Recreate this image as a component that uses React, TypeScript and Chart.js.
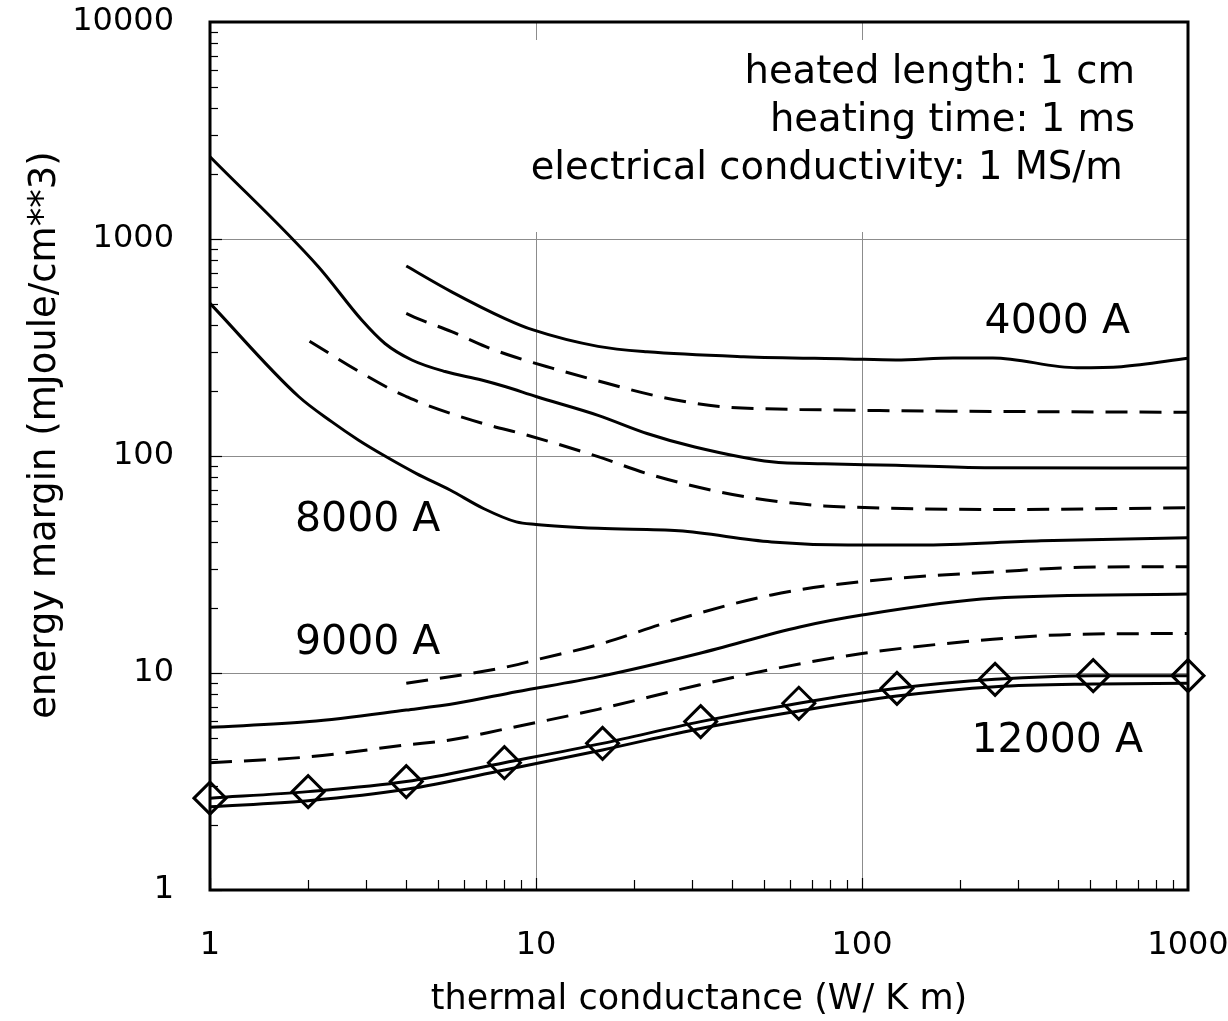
import React, { useEffect, useRef } from "react";
import { Chart, registerables } from "chart.js";

Chart.register(...registerables);

const FONT = "'DejaVu Sans', Verdana, sans-serif";

const X_TICKS = [1, 10, 100, 1000];
const Y_TICKS = [1, 10, 100, 1000, 10000];

// 4000 A upper solid
const sBx = [4, 5.51, 8.03, 9.8, 15.5, 21.9, 43.3, 90.6, 127, 190, 252, 457, 625, 1000];
const sBy = [751, 571, 430, 381, 320, 302, 287, 280, 277, 283, 283, 255, 258, 282];
// dashed below it
const d1x = [4, 4.32, 5.51, 7.01, 8.66, 11.2, 14.5, 23.8, 36.5, 64.4, 113, 354, 1000];
const d1y = [454, 431, 374, 319, 285, 254, 228, 188, 169, 164, 162, 160, 159];
// solid from top-left
const sAx = [1, 2.15, 2.92, 3.44, 4.16, 5.26, 6.81, 8.03, 10, 15.5, 21.9, 30.7, 52.8, 76.4, 127, 238, 1000];
const sAy = [2394, 745, 423, 330, 277, 245, 224, 209, 188, 154, 127, 110, 94, 92, 90.6, 88.3, 88];
// dashed from x=2
const d2x = [2.02, 2.88, 3.61, 4.0, 4.6, 6.9, 9.35, 15.5, 21.9, 34.4, 50.8, 76.4, 96.6, 265, 1000];
const d2y = [338, 244, 202, 188, 172, 141, 125, 99.3, 83, 69.7, 62.7, 58.9, 58, 56.7, 57.7];
// 8000 A solid
const sCx = [1, 1.87, 2.36, 2.85, 3.44, 4.3, 5.45, 6.9, 8.7, 10, 15.5, 27.4, 52.8, 90.6, 150, 354, 1000];
const sCy = [505, 188, 144, 118.6, 100, 83, 69.7, 57.3, 49.7, 48.4, 46.4, 45.2, 40.2, 38.9, 38.9, 40.7, 42];
// 9000 A dashed
const d3x = [4, 6.7, 8.7, 10, 15.5, 25.9, 52.8, 100, 265, 471, 1000];
const d3y = [8.96, 10.1, 10.9, 11.5, 13.5, 17.3, 22.9, 26.4, 29.3, 30.7, 30.9];
// solid
const sDx = [1, 2.02, 4, 5.7, 8.7, 15.5, 31.6, 64.4, 100, 252, 1000];
const sDy = [5.62, 5.97, 6.75, 7.25, 8.2, 9.6, 12.3, 16.3, 18.5, 22.1, 23.1];
// dashed
const d4x = [1, 2.02, 4, 5.45, 7.93, 15.5, 31.6, 52.8, 100, 252, 471, 1000];
const d4y = [3.86, 4.11, 4.66, 4.91, 5.5, 6.8, 8.8, 10.4, 12.3, 14.3, 15.1, 15.2];
// 12000 A with diamonds
const mkx = [1, 2, 4, 8, 16, 32, 64, 128, 256, 512, 1000];
const mky = [2.65, 2.84, 3.16, 3.86, 4.74, 5.97, 7.25, 8.5, 9.35, 9.72, 9.72];
const sEy = [2.42, 2.58, 2.91, 3.57, 4.42, 5.55, 6.68, 7.83, 8.65, 8.9, 8.96];

const INFO_LINES = ["heated length: 1 cm", "heating time: 1 ms", "electrical conductivity: 1 MS/m "];
const CURVE_LABELS = ["4000 A", "8000 A", "9000 A", "12000 A"];

const pts = (xs: number[], ys: number[]) => xs.map((x, i) => ({ x, y: ys[i] }));

function line(xs: number[], ys: number[], dashed: boolean, marker = false) {
  return {
    data: pts(xs, ys),
    showLine: true,
    borderColor: "#000",
    borderWidth: 3,
    borderDash: dashed ? [22, 12] : [],
    cubicInterpolationMode: "monotone" as const,
    pointRadius: marker ? 16 : 0,
    pointStyle: "rectRot",
    pointBorderWidth: 3,
    pointBorderColor: "#000",
    pointBackgroundColor: "rgba(0,0,0,0)",
    backgroundColor: "rgba(0,0,0,0)",
    clip: false as any,
  };
}

const zeroPad = (s: any) => {
  s.paddingTop = 0;
  s.paddingBottom = 0;
  s.paddingLeft = 0;
  s.paddingRight = 0;
};

const decoPlugin = {
  id: "deco",
  beforeDatasetsDraw(chart: any) {
    const { ctx, chartArea: a, scales } = chart;
    const xs = scales.x, ys = scales.y;
    ctx.save();
    ctx.strokeStyle = "#8c8c8c";
    ctx.lineWidth = 1;
    [10, 100].forEach((v) => {
      const px = Math.round(xs.getPixelForValue(v)) + 0.5;
      ctx.beginPath(); ctx.moveTo(px, a.top); ctx.lineTo(px, a.bottom); ctx.stroke();
    });
    [10, 100, 1000].forEach((v) => {
      const py = Math.round(ys.getPixelForValue(v)) + 0.5;
      ctx.beginPath(); ctx.moveTo(a.left, py); ctx.lineTo(a.right, py); ctx.stroke();
    });
    // white text box
    ctx.fillStyle = "#fff";
    ctx.fillRect(505, 40, 645, 192);
    ctx.fillStyle = "#000";
    ctx.font = `38.5px ${FONT}`;
    ctx.textAlign = "right";
    ctx.textBaseline = "alphabetic";
    const base = [83, 131, 179];
    INFO_LINES.forEach((t, i) => ctx.fillText(t, 1135, base[i]));
    ctx.restore();
  },
  afterDatasetsDraw(chart: any) {
    const { ctx, chartArea: a, scales } = chart;
    const xs = scales.x, ys = scales.y;
    ctx.save();
    ctx.strokeStyle = "#000";
    // ticks
    ctx.lineWidth = 1.2;
    for (let d = 0; d < 4; d++) {
      for (let m = 1; m <= 9; m++) {
        const v = m * Math.pow(10, d);
        if (v > 10000) continue;
        const py = Math.round(ys.getPixelForValue(v)) + 0.5;
        const len = m === 1 ? 12 : 8;
        ctx.beginPath(); ctx.moveTo(a.left, py); ctx.lineTo(a.left + len, py); ctx.stroke();
      }
    }
    for (let d = 0; d < 3; d++) {
      for (let m = 1; m <= 9; m++) {
        const v = m * Math.pow(10, d);
        const px = Math.round(xs.getPixelForValue(v)) + 0.5;
        const len = m === 1 ? 12 : 10;
        ctx.beginPath(); ctx.moveTo(px, a.bottom); ctx.lineTo(px, a.bottom - len); ctx.stroke();
      }
    }
    // frame
    ctx.lineWidth = 3;
    ctx.strokeRect(a.left, a.top, a.right - a.left, a.bottom - a.top);
    // curve labels
    ctx.fillStyle = "#000";
    ctx.font = `41px ${FONT}`;
    ctx.textBaseline = "alphabetic";
    ctx.textAlign = "right";
    ctx.fillText(CURVE_LABELS[0], 1130, 333);
    ctx.fillText(CURVE_LABELS[3], 1143, 752);
    ctx.textAlign = "left";
    ctx.fillText(CURVE_LABELS[1], 295, 531);
    ctx.fillText(CURVE_LABELS[2], 295, 654);
    // y axis title
    ctx.font = `37px ${FONT}`;
    ctx.textAlign = "center";
    ctx.textBaseline = "middle";
    ctx.translate(45, 435);
    ctx.rotate(-Math.PI / 2);
    ctx.fillText("energy margin (mJoule/cm**3)", 0, 0);
    ctx.restore();
  },
};

export default function App() {
  const ref = useRef<HTMLCanvasElement | null>(null);
  useEffect(() => {
    document.body.style.margin = "0";
    const canvas = ref.current!;
    const chart = new Chart(canvas, {
      type: "scatter",
      data: {
        datasets: [
          line(sBx, sBy, false),
          line(d1x, d1y, true),
          line(sAx, sAy, false),
          line(d2x, d2y, true),
          line(sCx, sCy, false),
          line(d3x, d3y, true),
          line(sDx, sDy, false),
          line(d4x, d4y, true),
          line(mkx, sEy, false),
          line(mkx, mky, false, true),
        ] as any,
      },
      options: {
        responsive: false,
        animation: false,
        events: [],
        layout: { padding: { top: 22, right: 40, left: 0, bottom: 0 } },
        plugins: { legend: { display: false }, tooltip: { enabled: false } },
        scales: {
          x: {
            type: "logarithmic",
            position: "bottom",
            min: 1,
            max: 1000,
            afterBuildTicks: (s: any) => { s.ticks = X_TICKS.map((v) => ({ value: v })); },
            afterFit: (s: any) => { s.height = 131; zeroPad(s); },
            grid: { display: false, drawTicks: false },
            border: { display: false },
            ticks: {
              autoSkip: false,
              maxRotation: 0,
              padding: 36,
              color: "#000",
              font: { family: FONT, size: 32 },
              callback: (v: any) => String(v),
            },
            title: {
              display: true,
              text: "thermal conductance (W/ K m)",
              color: "#000",
              font: { family: FONT, size: 35 },
              padding: { top: 0, bottom: 0 },
            },
          },
          y: {
            type: "logarithmic",
            position: "left",
            min: 1,
            max: 10000,
            afterBuildTicks: (s: any) => { s.ticks = Y_TICKS.map((v) => ({ value: v })); },
            afterFit: (s: any) => { s.width = 210; zeroPad(s); },
            grid: { display: false, drawTicks: false },
            border: { display: false },
            ticks: {
              autoSkip: false,
              padding: 36,
              color: "#000",
              font: { family: FONT, size: 32 },
              callback: (v: any) => String(v),
            },
          },
        },
      },
      plugins: [decoPlugin],
    });
    return () => chart.destroy();
  }, []);
  return <canvas ref={ref} width={1228} height={1021} style={{ display: "block" }} />;
}
